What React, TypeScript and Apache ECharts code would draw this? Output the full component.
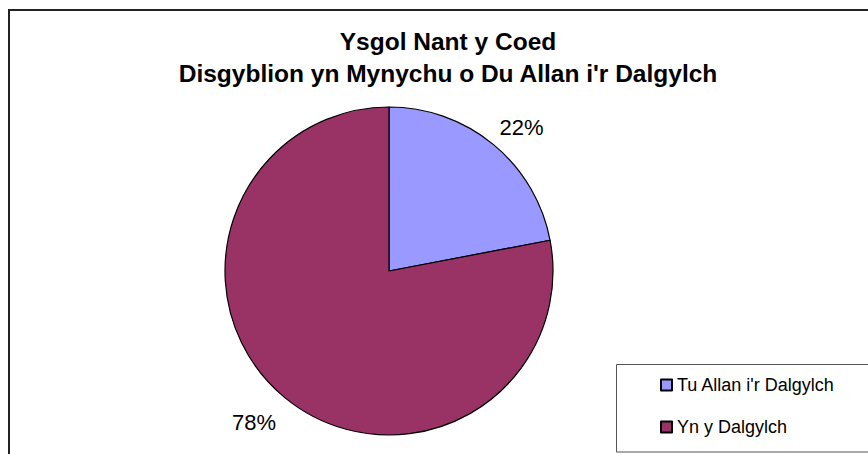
import React, { useEffect, useRef } from "react";
import * as echarts from "echarts";

const titleLines = ["Ysgol Nant y Coed", "Disgyblion yn Mynychu o Du Allan i'r Dalgylch"];
const categories = ["Tu Allan i'r Dalgylch", "Yn y Dalgylch"];
const values = [22, 78];
const colors = ["#9999FF", "#993366"];
const labelLineLengths = [22, 32];
const labelDistances = [-8, -12];

const FONT = "'Liberation Sans', Arial, sans-serif";

export default function App() {
  const ref = useRef<HTMLDivElement>(null);
  useEffect(() => {
    if (!ref.current) return;
    const chart = echarts.init(ref.current, undefined, { renderer: "svg" });
    const data = categories.map((name, i) => ({
      name,
      value: values[i],
      itemStyle: { color: colors[i] },
      label: { distanceToLabelLine: labelDistances[i] },
      labelLine: { show: false, length: labelLineLengths[i], length2: 0 },
    }));
    chart.setOption({
      animation: false,
      backgroundColor: "#ffffff",
      title: {
        text: titleLines.join("\n"),
        left: 443,
        textAlign: "center",
        top: 20,
        textStyle: {
          fontFamily: FONT,
          fontWeight: "bold",
          fontSize: 24.5,
          lineHeight: 32,
          color: "#000",
        },
      },
      graphic: [
        {
          type: "rect",
          shape: { x: 9, y: 10, width: 880, height: 480 },
          style: { fill: "none", stroke: "#222", lineWidth: 2 },
          silent: true,
        },
        {
          type: "rect",
          shape: { x: 616.5, y: 364.5, width: 280, height: 87.5 },
          style: { fill: "#fff", stroke: "#555", lineWidth: 1 },
          silent: true,
        },
      ],
      legend: {
        orient: "vertical",
        left: 660,
        top: 374,
        padding: 0,
        itemWidth: 11,
        itemHeight: 11,
        itemGap: 20,
        icon: "rect",
        textStyle: { fontFamily: FONT, fontSize: 18, color: "#000", lineHeight: 22 },
        data: categories,
      },
      series: [
        {
          type: "pie",
          center: [389, 271],
          radius: 164,
          startAngle: 90,
          clockwise: true,
          avoidLabelOverlap: false,
          itemStyle: { borderColor: "#000", borderWidth: 1.2 },
          label: {
            show: true,
            position: "outside",
            formatter: "{d}%",
            fontFamily: FONT,
            fontSize: 22,
            color: "#000",
            alignTo: "none",
          },
          emphasis: { disabled: true },
          data,
        },
      ],
    });
    return () => chart.dispose();
  }, []);
  return (
    <div
      ref={ref}
      style={{ position: "fixed", left: 0, top: 0, width: 868, height: 454 }}
    />
  );
}
